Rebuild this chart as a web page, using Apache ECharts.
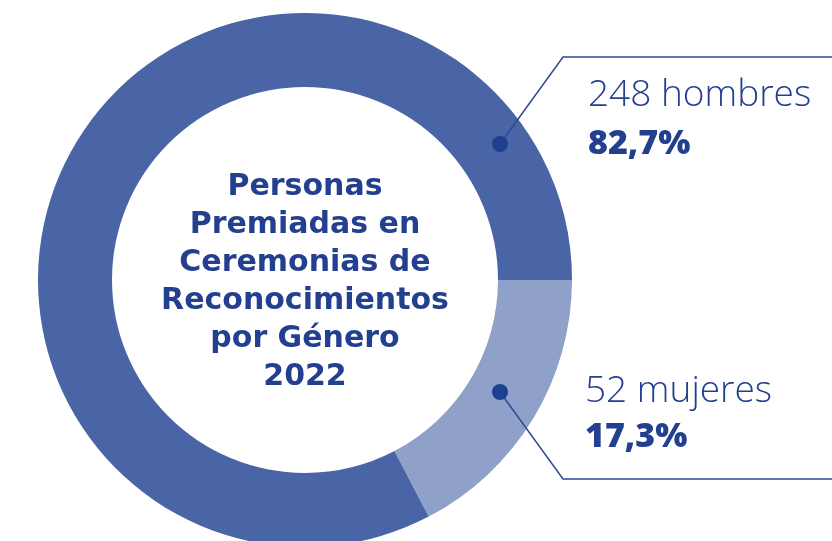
<!DOCTYPE html>
<html>
<head>
<meta charset="utf-8">
<script src="https://cdn.jsdelivr.net/npm/echarts@6/dist/echarts.min.js"></script>
<style>
  html, body { margin: 0; padding: 0; background: #ffffff; }
  #chart { width: 832px; height: 541px; }
</style>
</head>
<body>
<div id="chart"></div>
<script>
// Premiados por género, 2022
const categories = ['mujeres', 'hombres'];
const values = [52, 248];
const colors = ['#8fa1c8', '#4a65a6'];
const titleLines = ['Personas', 'Premiadas en', 'Ceremonias de', 'Reconocimientos', 'por Género', '2022'];

const TEXT_COLOR = '#233f8f';
const LINE_COLOR = '#2c4a98';
const CX = 305, CY = 280, R_IN = 193, R_OUT = 267;

const total = values.reduce((a, b) => a + b, 0);
const pct = v => (v / total * 100).toFixed(1).replace('.', ',') + '%';

// callout layout per category: dot, elbow, label anchor
const callouts = {
  hombres: { dot: [500, 144], elbow: [563, 57], label: [588, 95], pctY: 144 },
  mujeres: { dot: [500, 392], elbow: [563, 479], label: [585, 391], pctY: 437 }
};

const graphics = [];
categories.forEach((name, i) => {
  const c = callouts[name];
  graphics.push({
    type: 'polyline',
    z: 10,
    shape: { points: [c.dot, c.elbow, [832, c.elbow[1]]] },
    style: { stroke: LINE_COLOR, lineWidth: 1.5, fill: null }
  });
  graphics.push({
    type: 'circle',
    z: 11,
    shape: { cx: c.dot[0], cy: c.dot[1], r: 8 },
    style: { fill: '#1f3f91' }
  });
  graphics.push({
    type: 'text',
    z: 11,
    x: c.label[0], y: c.label[1],
    style: {
      text: values[i] + ' ' + name,
      font: '300 37px "Open Sans"',
      fill: TEXT_COLOR,
      textAlign: 'left',
      textVerticalAlign: 'middle'
    }
  });
  graphics.push({
    type: 'text',
    z: 11,
    x: c.label[0], y: c.pctY,
    style: {
      text: pct(values[i]),
      font: '800 34px "Open Sans"',
      fill: TEXT_COLOR,
      textAlign: 'left',
      textVerticalAlign: 'middle'
    }
  });
});

graphics.push({
  type: 'text',
  z: 11,
  x: CX, y: CY + 2,
  style: {
    text: titleLines.join('\n'),
    font: 'bold 30px "DejaVu Sans"',
    lineHeight: 38,
    fill: TEXT_COLOR,
    textAlign: 'center',
    textVerticalAlign: 'middle'
  }
});

const chart = echarts.init(document.getElementById('chart'), null, { renderer: 'canvas' });
chart.setOption({
  backgroundColor: '#ffffff',
  animation: false,
  series: [{
    type: 'pie',
    center: [CX, CY],
    radius: [R_IN, R_OUT],
    startAngle: 0,
    clockwise: true,
    silent: true,
    label: { show: false },
    labelLine: { show: false },
    data: categories.map((name, i) => ({
      name: name,
      value: values[i],
      itemStyle: { color: colors[i] }
    }))
  }],
  graphic: graphics
});
</script>
</body>
</html>
